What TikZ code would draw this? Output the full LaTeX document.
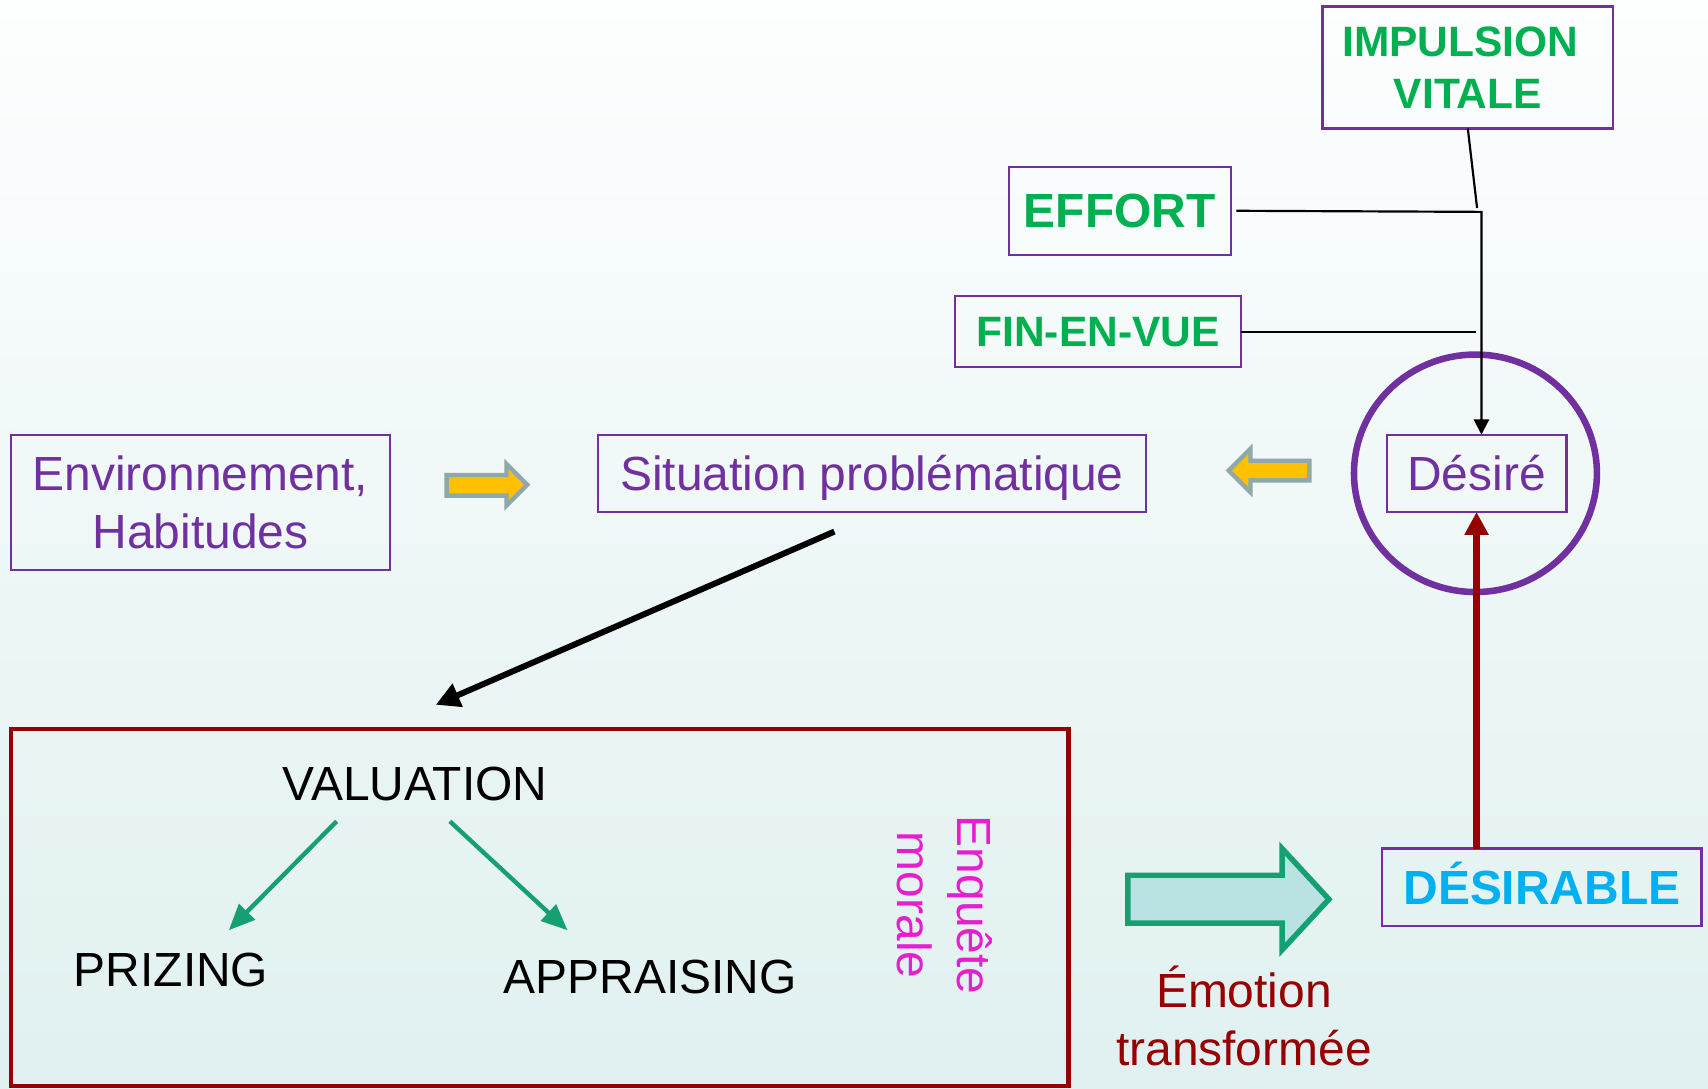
\documentclass[tikz,border=0pt]{standalone}
\usepackage{fontspec}
\setmainfont{Liberation Sans}
\usetikzlibrary{shapes.geometric,arrows.meta,calc}
\definecolor{pur}{RGB}{112,48,160}
\definecolor{grn}{RGB}{0,176,80}
\definecolor{cya}{RGB}{0,176,240}
\definecolor{dred}{RGB}{150,0,0}
\definecolor{mag}{RGB}{230,30,205}
\definecolor{tgrn}{RGB}{20,160,112}
\definecolor{tfill}{RGB}{187,226,226}
\definecolor{ygray}{RGB}{143,168,168}
\definecolor{yel}{RGB}{255,192,0}
\definecolor{bgtop}{RGB}{253,254,254}
\definecolor{bgbot}{RGB}{224,240,240}
\begin{document}
\begin{tikzpicture}[x=1pt,y=-1pt,
  box/.style={draw=pur,line width=2pt,inner sep=0pt,outer sep=0pt,align=center},
  ptext/.style={text=pur,font=\fontsize{44}{53}\selectfont},
  gtext/.style={text=grn,font=\fontsize{39}{48}\selectfont\bfseries},
  capc/.style={text height=#1,text depth=0pt},
  plain/.style={font=\fontsize{44}{53}\selectfont,inner sep=0pt,anchor=base},
  thinarrow/.style={draw=black,line width=2pt},
  yarrow/.style={fill=yel,draw=ygray,line width=4pt,line join=miter},
  garrow/.style={draw=tgrn,line width=4pt,-{Triangle[length=24pt,width=20pt]}},
]
\useasboundingbox (0,0) rectangle (1568,999);
\shade[top color=bgtop,bottom color=bgbot] (0,0) rectangle (1568,999);

% top-right boxes
\node[box,gtext,minimum width=267pt,minimum height=112pt] (imp) at (1347.5,62) {IMPULSION\hspace*{14pt}\\VITALE};
\node[box,gtext,capc=31.5pt,font=\fontsize{44}{53}\selectfont\bfseries,minimum width=204pt,minimum height=81pt] (effort) at (1028,193.5) {EFFORT};
\node[box,gtext,capc=28pt,minimum width=262pt,minimum height=65pt] (fin) at (1008,304.5) {FIN-EN-VUE};

% middle row
\node[box,ptext,minimum width=348pt,minimum height=124pt] (env) at (184,461) {Environnement,\\Habitudes};
\node[box,ptext,capc=31.5pt,minimum width=503pt,minimum height=71pt] (sit) at (800.5,434.5) {Situation problématique};
\node[box,ptext,capc=31.5pt,minimum width=165pt,minimum height=71pt] (desire) at (1355.5,434.5) {Désiré};
\node[ellipse,draw=pur,line width=6pt,inner sep=0pt,outer sep=0pt,minimum width=223pt,minimum height=218pt] (circ) at (1354.5,434.5) {};

% desirable
\node[box,capc=31.5pt,text=cya,font=\fontsize{44}{53}\selectfont\bfseries,minimum width=293pt,minimum height=71pt] (desirable) at (1415.5,814.5) {DÉSIRABLE};

% red box
\node[draw=dred,line width=4pt,inner sep=0pt,outer sep=0pt,minimum width=971pt,minimum height=328pt] (redbox) at (495.5,833) {};
\node[plain] (val) at (381,735) {VALUATION};
\node[plain] (prz) at (157,906) {PRIZING};
\node[plain] (app) at (597,912) {APPRAISING};
\node[rotate=-90,text=mag,font=\fontsize{44}{55}\selectfont,align=center,inner sep=0pt] (enq) at (867,831) {Enquête\\morale};

\node[text=dred,font=\fontsize{44}{53}\selectfont,align=center,inner sep=0pt] (emo) at (1142,932.5) {Émotion\\transformée};

% connectors top right
\coordinate (j1) at (1356,191);
\coordinate (corner) at (1360,194.5);
\coordinate (f1) at (1355,304.5);
\draw[thinarrow] (imp.south) -- (j1);
\draw[thinarrow,-{Triangle[length=14pt,width=14pt]}] ($(effort.east)+(5,0)$) -- (corner) -- (corner |- desire.north);
\draw[thinarrow] (fin.east) -- (f1);

% yellow block arrows
\draw[yarrow] (410,436) -- (465,436) -- (465,426) -- (484,445) -- (465,464) -- (465,455) -- (410,455) -- cycle;
\draw[yarrow] (1202,423) -- (1148,423) -- (1148,412) -- (1128,432) -- (1148,452) -- (1148,441) -- (1202,441) -- cycle;

% black arrow
\draw[line width=5.5pt,-{Triangle[length=22pt,width=22pt]}] ($(sit.south)+(-34.5,18)$) -- ($(redbox.north)+(-95.5,-22)$);

% green arrows
\coordinate (v1) at (309,754);
\coordinate (v2) at (210,854);
\coordinate (v3) at (413,754);
\coordinate (v4) at (521,854);
\draw[garrow] (v1) -- (v2);
\draw[garrow] (v3) -- (v4);

% teal block arrow
\draw[fill=tfill,draw=tgrn,line width=5pt,line join=miter] (1035.5,803.5) -- (1177,803.5) -- (1177,779) -- (1220,825.5) -- (1177,872) -- (1177,847.5) -- (1035.5,847.5) -- cycle;

% red arrow
\draw[draw=dred,line width=7pt,-{Triangle[length=21pt,width=21pt]}] (desire.south |- desirable.north) -- (desire.south);
\end{tikzpicture}
\end{document}
